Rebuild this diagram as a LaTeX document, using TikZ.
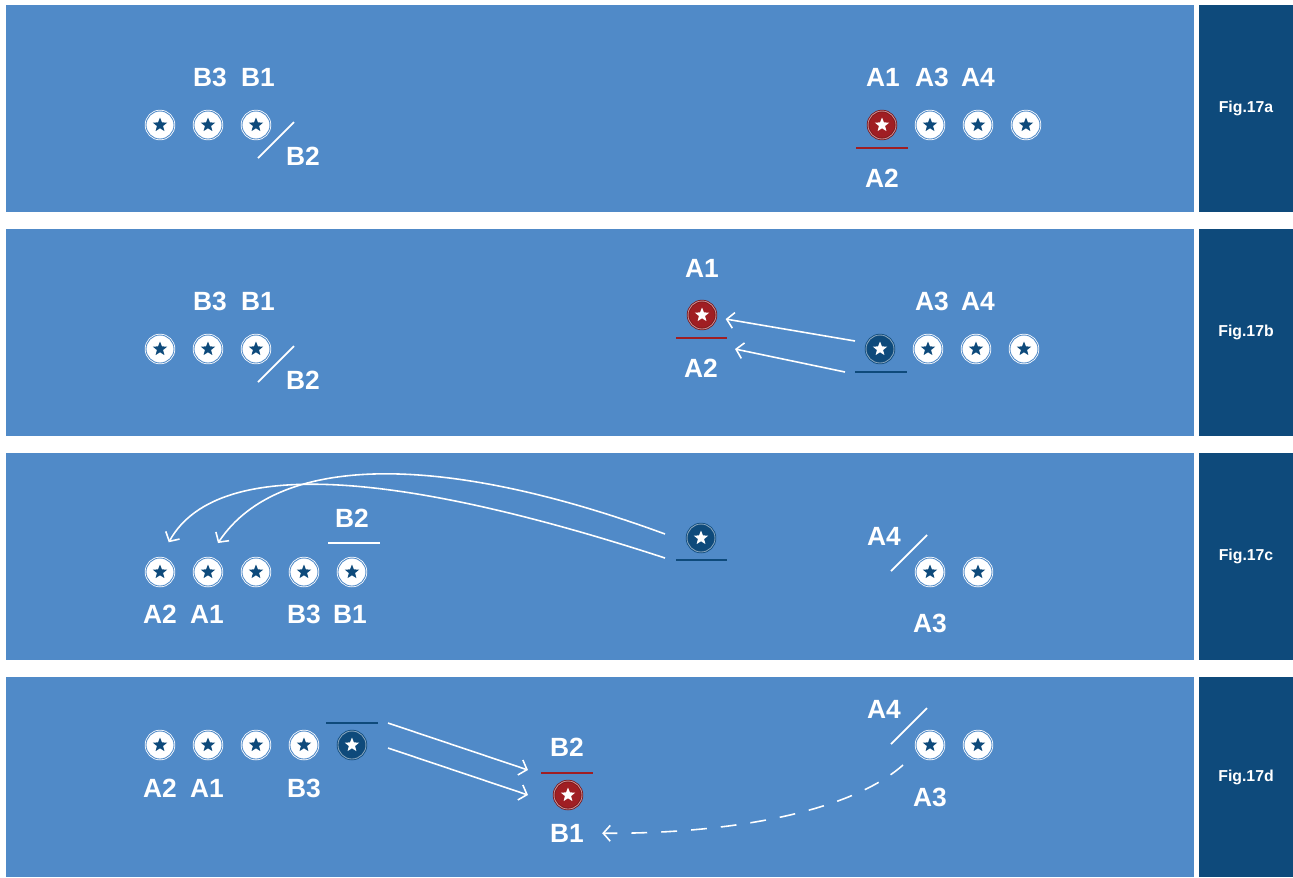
\documentclass[tikz,border=0pt]{standalone}
\usepackage{fontspec}
\setmainfont{Liberation Sans}
\usetikzlibrary{arrows.meta,shapes.geometric,positioning}

\definecolor{cbg}{HTML}{508AC8}
\definecolor{cdark}{HTML}{0E4A7B}
\definecolor{cred}{HTML}{A01E23}

\begin{document}
\begin{tikzpicture}
    [x=0.02cm, y=-0.02cm, node distance=0.4cm,
    >={Straight Barb[length=4pt,width=9pt]},
    pstar/.style={star, star points=5, star point ratio=2.3, anchor=center,
      minimum size=0.3cm, inner sep=0pt},
    token/.style={circle, inner sep=0pt, outer sep=0pt, minimum size=0.56cm,
      line width=0.45pt, double distance=0.5pt},
    wtok/.style={token, fill=white, draw=white, double=cbg,
      path picture={\node[pstar, fill=cdark] at (path picture bounding box.center) {};}},
    rtok/.style={token, fill=cred, draw=cred!75!black, double=cred!50!white,
      path picture={\node[pstar, fill=white] at (path picture bounding box.center) {};}},
    dtok/.style={token, fill=cdark, draw=cdark, double=cdark!50!white,
      path picture={\node[pstar, fill=white] at (path picture bounding box.center) {};}},
    lab/.style={text=white, inner sep=0pt, font=\bfseries\fontsize{15}{17}\selectfont},
    fig/.style={text=white, font=\bfseries\fontsize{9}{11}\selectfont},
    wline/.style={white, line width=1pt},
    rline/.style={cred, line width=1.2pt},
    dline/.style={cdark, line width=1.2pt},
    warr/.style={white, line width=0.9pt, ->}]

  \useasboundingbox[fill=white] (0,0) rectangle (1293,877);

  % four panels with their tags
  \foreach \t/\b/\l in {5/212/a,229/436/b,453/660/c,677/877/d}{
    \fill[cbg] (6,\t) rectangle (1194,\b);
    \fill[cdark] (1199,\t) rectangle (1293,\b);
    \node[fig] (fig-\l) at (1246,{(\t+\b)/2}) {Fig.17\l};
  }

  % Fig.17a
  \node[wtok] (a-l1) at (160,125) {};
  \node[wtok, right=of a-l1] (a-l2) {};
  \node[wtok, right=of a-l2] (a-l3) {};
  \node[lab] (a-B3) at (210,77) {B3};
  \node[lab] (a-B1) at (258,77) {B1};
  \node[lab] (a-B2) at (303,156) {B2};
  \draw[wline] (258,158) -- (294,122);

  \node[rtok] (a-r1) at (882,125) {};
  \node[wtok, right=of a-r1] (a-r2) {};
  \node[wtok, right=of a-r2] (a-r3) {};
  \node[wtok, right=of a-r3] (a-r4) {};
  \node[lab] (a-A1) at (883,77) {A1};
  \node[lab] (a-A3) at (932,77) {A3};
  \node[lab] (a-A4) at (978,77) {A4};
  \node[lab] (a-A2) at (882,178) {A2};
  \draw[rline] (856,148) -- (908,148);

  % Fig.17b
  \node[wtok] (b-l1) at (160,349) {};
  \node[wtok, right=of b-l1] (b-l2) {};
  \node[wtok, right=of b-l2] (b-l3) {};
  \node[lab] (b-B3) at (210,301) {B3};
  \node[lab] (b-B1) at (258,301) {B1};
  \node[lab] (b-B2) at (303,380) {B2};
  \draw[wline] (258,382) -- (294,346);

  \node[rtok] (b-red) at (702,315) {};
  \node[lab] (b-A1) at (702,268) {A1};
  \node[lab] (b-A2) at (701,368) {A2};
  \draw[rline] (676,338) -- (727,338);

  \node[dtok] (b-m) at (880,349) {};
  \node[wtok, right=of b-m] (b-r2) {};
  \node[wtok, right=of b-r2] (b-r3) {};
  \node[wtok, right=of b-r3] (b-r4) {};
  \node[lab] (b-A3) at (932,301) {A3};
  \node[lab] (b-A4) at (978,301) {A4};
  \draw[dline] (855,372) -- (907,372);

  \coordinate (b-s1) at (855,341);
  \coordinate (b-s2) at (845,372);
  \coordinate (b-e2) at (735,349);
  \draw[warr, shorten >=0.2cm] (b-s1) -- (b-red);
  \draw[warr] (b-s2) -- (b-e2);

  % Fig.17c
  \node[wtok] (c-l1) at (160,572) {};
  \node[wtok, right=of c-l1] (c-l2) {};
  \node[wtok, right=of c-l2] (c-l3) {};
  \node[wtok, right=of c-l3] (c-l4) {};
  \node[wtok, right=of c-l4] (c-l5) {};
  \node[lab] (c-A2) at (160,614) {A2};
  \node[lab] (c-A1) at (207,614) {A1};
  \node[lab] (c-B3) at (304,614) {B3};
  \node[lab] (c-B1) at (350,614) {B1};
  \node[lab] (c-B2) at (352,518) {B2};
  \draw[wline] (328,543) -- (380,543);

  \node[dtok] (c-m) at (701,538) {};
  \draw[dline] (676,560) -- (727,560);

  \node[lab] (c-A4) at (884,536) {A4};
  \draw[wline] (891,571) -- (927,535);
  \node[wtok] (c-r1) at (930,572) {};
  \node[wtok, right=of c-r1] (c-r2) {};
  \node[lab] (c-A3) at (930,623) {A3};

  \coordinate (c-s1) at (665,534);
  \coordinate (c-s2) at (665,558);
  \draw[warr, shorten >=0.36cm] (c-s1) .. controls (450,455) and (280,450) .. (c-l2.north);
  \draw[warr, shorten >=0.36cm] (c-s2) .. controls (420,478) and (220,450) .. (c-l1.north);

  % Fig.17d
  \node[wtok] (d-l1) at (160,745) {};
  \node[wtok, right=of d-l1] (d-l2) {};
  \node[wtok, right=of d-l2] (d-l3) {};
  \node[wtok, right=of d-l3] (d-l4) {};
  \node[dtok, right=of d-l4] (d-m) {};
  \node[lab] (d-A2) at (160,788) {A2};
  \node[lab] (d-A1) at (207,788) {A1};
  \node[lab] (d-B3) at (304,788) {B3};
  \draw[dline] (326,723) -- (378,723);

  \node[lab] (d-B2) at (567,747) {B2};
  \draw[rline] (541,773) -- (593,773);
  \node[rtok] (d-red) at (568,795) {};
  \node[lab] (d-B1) at (567,833) {B1};

  \node[lab] (d-A4) at (884,709) {A4};
  \draw[wline] (891,744) -- (927,708);
  \node[wtok] (d-r1) at (930,745) {};
  \node[wtok, right=of d-r1] (d-r2) {};
  \node[lab] (d-A3) at (930,797) {A3};

  \coordinate (d-s1) at (388,723);
  \coordinate (d-e1) at (528,770);
  \coordinate (d-s2) at (388,748);
  \coordinate (d-e2) at (528,795);
  \coordinate (d-s3) at (903,765);
  \draw[warr] (d-s1) -- (d-e1);
  \draw[warr] (d-s2) -- (d-e2);
  \draw[warr, dash pattern=on 9pt off 8pt, shorten >=0.36cm]
    (d-s3) .. controls (850,812) and (730,834) .. (d-B1);

\end{tikzpicture}
\end{document}
